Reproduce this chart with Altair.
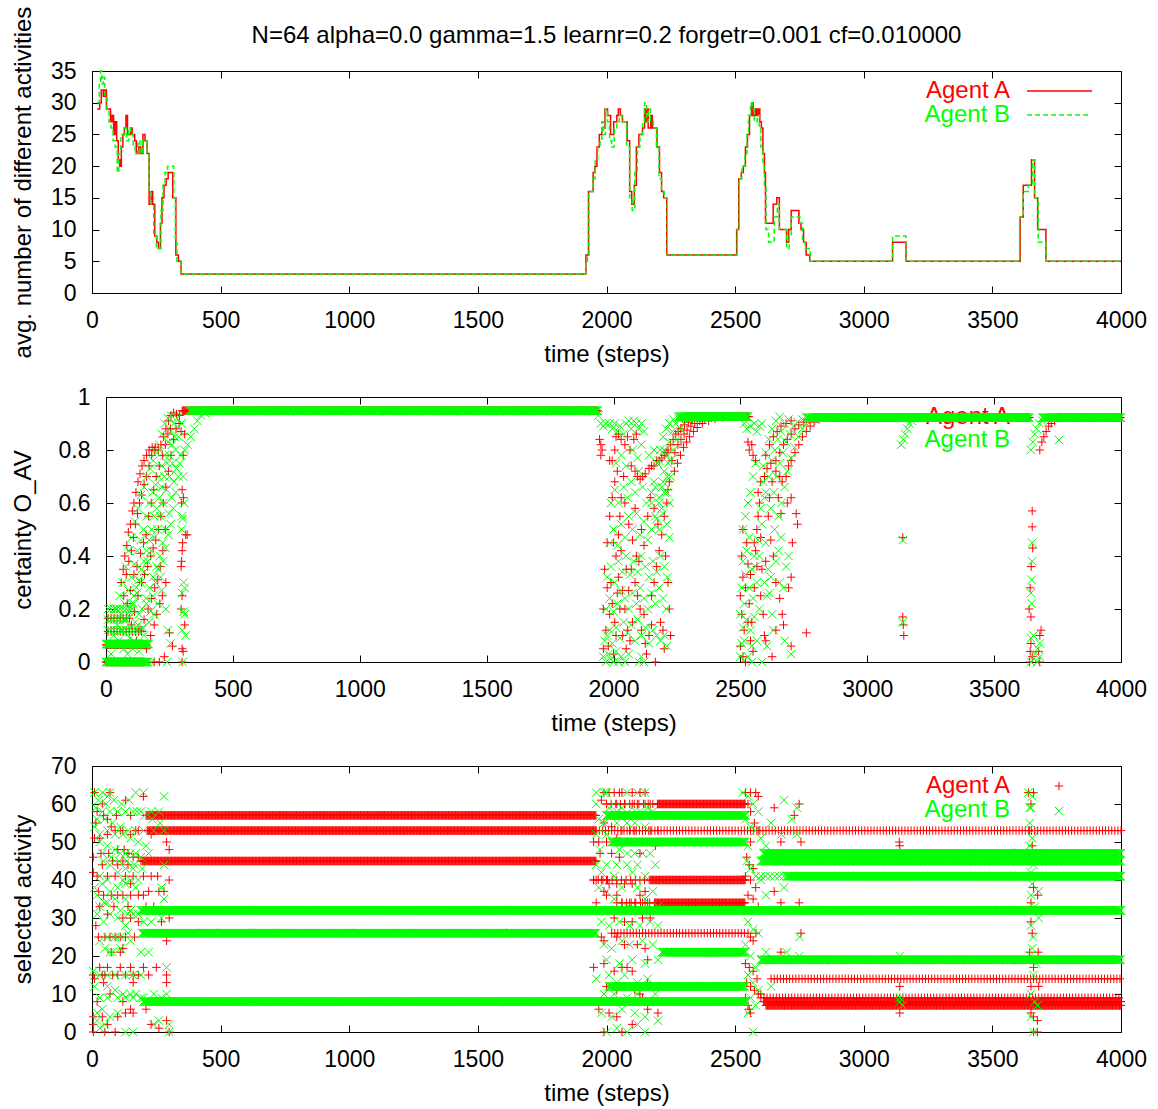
import altair as alt
import pandas as pd

FONT = "Liberation Sans"
RED = "#ff0000"
GREEN = "#00ff00"
PLUS = "M-1,0L1,0M0,-1L0,1"
CROSS = "M-1,-1L1,1M-1,1L1,-1"

title_text = "N=64 alpha=0.0 gamma=1.5 learnr=0.2 forgetr=0.001 cf=0.010000"
agents = ["Agent A", "Agent B"]
x_title = "time (steps)"
y_titles = ["avg. number of different activities", "certainty O_AV", "selected activity"]
x_ticks = [0, 500, 1000, 1500, 2000, 2500, 3000, 3500, 4000]
y1_ticks = [0, 5, 10, 15, 20, 25, 30, 35]
y2_ticks = [0, 0.2, 0.4, 0.6, 0.8, 1]
y3_ticks = [0, 10, 20, 30, 40, 50, 60, 70]

# ---------------- panel 1: avg. number of different activities (step lines)
act_A = [(20, 29), (30, 30), (36, 32), (44, 31), (50, 32), (56, 29), (66, 29), (72, 27), (78, 28), (84, 25),
         (90, 27), (96, 24), (102, 21), (108, 20), (114, 23), (120, 25), (126, 26), (132, 28), (138, 25),
         (150, 26), (156, 25), (166, 24), (172, 22), (182, 23), (190, 22), (198, 25), (206, 24), (214, 22),
         (222, 14), (230, 16), (236, 14), (244, 9), (252, 8), (258, 7), (266, 11), (272, 15), (280, 17),
         (288, 18), (296, 19), (314, 15), (326, 6), (336, 5), (346, 3),
         (1920, 6), (1930, 16), (1948, 19), (1955, 20), (1963, 23), (1972, 25), (1982, 26), (1994, 29),
         (2004, 28), (2016, 25), (2028, 27), (2040, 28), (2046, 29), (2054, 28), (2062, 27), (2080, 24),
         (2090, 16), (2098, 14), (2108, 17), (2116, 23), (2126, 25), (2140, 26), (2148, 29), (2152, 27),
         (2156, 29), (2162, 26), (2172, 28), (2178, 26), (2196, 23), (2206, 19), (2214, 16), (2222, 15),
         (2234, 6),
         (2506, 10), (2514, 18), (2524, 19), (2532, 20), (2540, 23), (2548, 25), (2556, 28), (2564, 30),
         (2570, 28), (2578, 29), (2584, 28), (2590, 29), (2596, 27), (2602, 26), (2608, 22), (2614, 19),
         (2618, 11), (2648, 14), (2662, 15), (2672, 10), (2700, 8), (2708, 10), (2718, 13), (2748, 11),
         (2756, 10), (2766, 8), (2776, 6), (2790, 5),
         (3112, 8), (3164, 5), (3608, 12), (3620, 17), (3652, 21), (3664, 15), (3676, 10), (3708, 5), (4000, 5)]
act_B = [(20, 30), (28, 33), (33, 35), (38, 33), (44, 34), (50, 31), (58, 29), (66, 27), (74, 26), (82, 24),
         (90, 23), (98, 19), (104, 22), (112, 25), (124, 26), (134, 24), (142, 26), (150, 25), (160, 23),
         (168, 22), (178, 24), (186, 22), (196, 24), (206, 24), (214, 22), (222, 16), (230, 14), (240, 9),
         (250, 7), (262, 7), (268, 13), (276, 17), (284, 19), (294, 20), (312, 20), (318, 15), (324, 8),
         (330, 5), (346, 3),
         (1920, 5), (1926, 6), (1932, 16), (1948, 18), (1956, 21), (1966, 23), (1975, 24), (1982, 27),
         (1988, 25), (1996, 29), (2004, 27), (2012, 24), (2020, 23), (2030, 26), (2040, 27), (2050, 28),
         (2062, 27), (2078, 23), (2090, 15), (2100, 13), (2110, 19), (2120, 23), (2130, 25), (2140, 27),
         (2148, 30), (2156, 27), (2162, 29), (2170, 27), (2182, 26), (2194, 23), (2204, 18), (2214, 16),
         (2224, 15), (2236, 6),
         (2508, 10), (2516, 18), (2526, 20), (2538, 22), (2546, 25), (2552, 28), (2560, 30), (2566, 29),
         (2574, 27), (2586, 28), (2594, 26), (2600, 23), (2608, 20), (2614, 17), (2620, 10), (2630, 8),
         (2646, 8), (2652, 12), (2664, 14), (2672, 10), (2700, 7), (2710, 9), (2718, 12), (2740, 12),
         (2752, 11), (2762, 8), (2772, 7), (2792, 5),
         (3112, 9), (3164, 5), (3606, 12), (3620, 16), (3640, 17), (3656, 21), (3664, 15), (3678, 8),
         (3708, 5), (4000, 5)]

# ---------------- panel 2: certainty O_AV
# constant runs (t_start, t_end, value)
cert_A_runs_dense = [(0, 150, 0.0), (0, 160, 0.065), (300, 1940, 0.948), (2290, 2535, 0.926),
                     (2790, 3640, 0.922), (3740, 4000, 0.922)]
cert_A_runs_sparse = [(8, 140, 0.115), (8, 100, 0.165)]
cert_B_runs_dense = [(0, 165, 0.0), (0, 170, 0.068), (330, 1940, 0.948), (2260, 2530, 0.926),
                     (2760, 3640, 0.922), (3690, 4000, 0.922)]
cert_B_runs_sparse = [(8, 150, 0.12), (8, 90, 0.16), (8, 110, 0.2)]

cert_A_pts = [
    (60, 0.30), (68, 0.35), (74, 0.40), (82, 0.44), (88, 0.49), (96, 0.52), (104, 0.57), (110, 0.60),
    (118, 0.64), (126, 0.68), (134, 0.71), (142, 0.74), (150, 0.76), (160, 0.78), (170, 0.80), (182, 0.81),
    (194, 0.81), (206, 0.80), (216, 0.82), (226, 0.85), (236, 0.88), (246, 0.91), (256, 0.93), (266, 0.94),
    (278, 0.935), (290, 0.93),
    (70, 0.25), (80, 0.33), (90, 0.38), (100, 0.42), (108, 0.47), (116, 0.52), (124, 0.56), (132, 0.60),
    (140, 0.63), (150, 0.67), (160, 0.70), (170, 0.74), (180, 0.78), (190, 0.80),
    (84, 0.22), (96, 0.27), (110, 0.33), (122, 0.36), (136, 0.41), (148, 0.45), (158, 0.48), (168, 0.55),
    (178, 0.60), (188, 0.65), (198, 0.70), (210, 0.74), (222, 0.78), (234, 0.82), (244, 0.86), (254, 0.88),
    (100, 0.14), (112, 0.19), (126, 0.25), (140, 0.30), (152, 0.33), (164, 0.36), (176, 0.40), (186, 0.43),
    (196, 0.46), (206, 0.50), (216, 0.55), (226, 0.60), (236, 0.66), (246, 0.72), (256, 0.78), (266, 0.84),
    (276, 0.88),
    (120, 0.08), (134, 0.12), (150, 0.16), (166, 0.20), (180, 0.24), (192, 0.28), (204, 0.31), (214, 0.36),
    (224, 0.42), (234, 0.50),
    (160, 0.05), (176, 0.10), (190, 0.14), (200, 0.18), (212, 0.22), (222, 0.25), (236, 0.30), (250, 0.11),
    (262, 0.06), (210, 0.0), (230, 0.02), (190, 0.0),
    (300, 0.65), (305, 0.62), (298, 0.60), (314, 0.48), (320, 0.48), (302, 0.45), (300, 0.42), (298, 0.38),
    (296, 0.36), (300, 0.25), (296, 0.20), (310, 0.14), (300, 0.05), (304, 0.04), (300, 0.0), (288, 0.90),
    (296, 0.87), (304, 0.78), (310, 0.86),
    # second burst
    (1945, 0.84), (1950, 0.82), (1955, 0.80), (1950, 0.78),
    (1985, 0.76), (1995, 0.76), (2005, 0.80), (2010, 0.85), (2020, 0.86), (2030, 0.84), (2045, 0.82),
    (2055, 0.85), (2065, 0.80), (2080, 0.84), (2090, 0.86),
    (2070, 0.74), (2085, 0.72), (2095, 0.70), (2105, 0.69), (2115, 0.70), (2125, 0.71), (2140, 0.73),
    (2150, 0.74), (2160, 0.74), (2170, 0.76), (2180, 0.76), (2190, 0.77), (2200, 0.78), (2210, 0.79),
    (2040, 0.70), (2030, 0.62), (2025, 0.55), (2020, 0.48), (2030, 0.42), (2045, 0.60), (2060, 0.52),
    (2075, 0.46), (2090, 0.40), (2070, 0.35), (2085, 0.30), (2100, 0.38), (2095, 0.25), (2105, 0.20),
    (2120, 0.18), (2110, 0.12), (2125, 0.07), (2140, 0.10), (2150, 0.25), (2160, 0.30), (2170, 0.36),
    (2180, 0.42), (2190, 0.48), (2200, 0.55), (2210, 0.60), (2215, 0.65), (2220, 0.68), (2185, 0.15),
    (2195, 0.12), (2200, 0.05), (2150, 0.14), (2130, 0.03), (2165, 0.0),
    (1965, 0.35), (1975, 0.28), (1960, 0.20), (1985, 0.18), (1995, 0.22), (2005, 0.15), (2010, 0.10),
    (1970, 0.12), (1980, 0.06), (1960, 0.05), (2000, 0.03), (2015, 0.26), (2020, 0.32), (2035, 0.27),
    (2045, 0.20), (2055, 0.12), (2065, 0.08), (2050, 0.35), (2060, 0.27), (2000, 0.45), (2010, 0.40),
    (1990, 0.30),
    (1975, 0.45), (1985, 0.55), (1995, 0.62), (2005, 0.68), (2015, 0.72), (2025, 0.20), (2035, 0.10),
    (2050, 0.05), (2075, 0.15), (2085, 0.58), (2110, 0.50), (2120, 0.44), (2135, 0.55), (2145, 0.62),
    (2160, 0.58), (2175, 0.52), (2205, 0.40), (2215, 0.30), (2220, 0.20), (2225, 0.10),
    (2215, 0.80), (2225, 0.82), (2235, 0.84), (2245, 0.86), (2255, 0.87), (2265, 0.88), (2280, 0.895),
    (2295, 0.905), (2310, 0.912), (2330, 0.918), (2350, 0.922),
    (2230, 0.76), (2242, 0.79), (2254, 0.82), (2266, 0.84), (2278, 0.86), (2290, 0.875), (2305, 0.89),
    (2320, 0.90), (2340, 0.91), (2360, 0.918), (2385, 0.922),
    (2240, 0.72), (2252, 0.75), (2264, 0.78), (2276, 0.81), (2288, 0.83), (2300, 0.85), (2315, 0.87),
    (2330, 0.885), (2350, 0.90), (2375, 0.91), (2400, 0.918), (2430, 0.924),
    # third burst
    (2530, 0.83), (2535, 0.80), (2545, 0.82), (2550, 0.78), (2560, 0.76),
    (2505, 0.40), (2510, 0.32), (2500, 0.25), (2505, 0.18), (2515, 0.12), (2500, 0.06), (2510, 0.02),
    (2520, 0.0), (2525, 0.45), (2530, 0.37), (2540, 0.33), (2535, 0.22), (2545, 0.15), (2540, 0.08),
    (2550, 0.04), (2555, 0.28), (2560, 0.42), (2565, 0.50), (2570, 0.55), (2575, 0.60), (2580, 0.47),
    (2585, 0.35), (2590, 0.18), (2595, 0.10),
    (2510, 0.50), (2520, 0.28), (2530, 0.15), (2555, 0.45), (2565, 0.36), (2580, 0.25), (2600, 0.38),
    (2615, 0.62), (2625, 0.68), (2650, 0.62), (2660, 0.56),
    (2570, 0.64), (2580, 0.68), (2595, 0.70), (2605, 0.73), (2620, 0.75), (2640, 0.72), (2655, 0.70),
    (2665, 0.68), (2680, 0.70), (2690, 0.74), (2700, 0.76), (2715, 0.79), (2730, 0.82), (2745, 0.85),
    (2760, 0.87), (2775, 0.89), (2790, 0.905), (2810, 0.915),
    (2600, 0.78), (2615, 0.82), (2630, 0.85), (2645, 0.87), (2660, 0.89), (2680, 0.90), (2700, 0.91),
    (2640, 0.76), (2655, 0.79), (2670, 0.82), (2685, 0.84), (2700, 0.86), (2715, 0.88), (2730, 0.895),
    (2750, 0.905), (2770, 0.915),
    (2685, 0.60), (2700, 0.62), (2720, 0.56), (2725, 0.52), (2705, 0.45), (2700, 0.32), (2690, 0.28),
    (2610, 0.55), (2620, 0.46), (2630, 0.40), (2640, 0.30), (2655, 0.24), (2665, 0.18), (2700, 0.06),
    (2760, 0.11), (2670, 0.14), (2640, 0.12), (2600, 0.08), (2625, 0.02),
    # isolated events
    (3140, 0.47), (3140, 0.17), (3142, 0.14), (3144, 0.10),
    (3650, 0.57), (3650, 0.51), (3652, 0.43), (3646, 0.36), (3642, 0.28), (3638, 0.20), (3645, 0.17),
    (3685, 0.12), (3680, 0.10), (3645, 0.07), (3642, 0.04), (3650, 0.02), (3640, 0.0), (3678, 0.0),
    (3675, 0.04),
    (3680, 0.80), (3688, 0.83), (3696, 0.85), (3705, 0.87), (3715, 0.89), (3725, 0.90), (3738, 0.91),
    (3750, 0.92)]

cert_B_pts = [
    (40, 0.20), (54, 0.25), (66, 0.30), (78, 0.36), (90, 0.42), (102, 0.47), (114, 0.53), (126, 0.58),
    (138, 0.63), (150, 0.66), (162, 0.70), (174, 0.73), (186, 0.76), (198, 0.79), (210, 0.82), (220, 0.86),
    (232, 0.90), (244, 0.92), (256, 0.93),
    (60, 0.18), (74, 0.22), (88, 0.27), (100, 0.32), (112, 0.37), (124, 0.42), (136, 0.46), (148, 0.50),
    (160, 0.55), (172, 0.60), (184, 0.64), (196, 0.67), (208, 0.70), (220, 0.74), (232, 0.78), (244, 0.83),
    (256, 0.87), (268, 0.90), (280, 0.92),
    (80, 0.12), (94, 0.17), (108, 0.22), (122, 0.26), (136, 0.30), (150, 0.34), (164, 0.38), (178, 0.42),
    (190, 0.47), (202, 0.50), (214, 0.55), (226, 0.60), (238, 0.65), (250, 0.70), (262, 0.75), (274, 0.80),
    (286, 0.85), (298, 0.90),
    (110, 0.08), (126, 0.14), (142, 0.20), (158, 0.24), (172, 0.28), (186, 0.32), (200, 0.36), (212, 0.40),
    (224, 0.45), (236, 0.50), (248, 0.56), (258, 0.62), (268, 0.68), (278, 0.73),
    (130, 0.04), (150, 0.10), (170, 0.15), (190, 0.18), (205, 0.22), (220, 0.27), (236, 0.20), (244, 0.12),
    (255, 0.07), (240, 0.0), (150, 0.0), (176, 0.0),
    (20, 0.03), (30, 0.10), (45, 0.14), (50, 0.08), (64, 0.12), (70, 0.05), (85, 0.03), (95, 0.09),
    (105, 0.05), (115, 0.15), (130, 0.18), (145, 0.13), (160, 0.22), (175, 0.19), (185, 0.25), (195, 0.30),
    (205, 0.35), (215, 0.32), (225, 0.38), (235, 0.43), (245, 0.48), (255, 0.52), (265, 0.58), (275, 0.64),
    (285, 0.70), (290, 0.75), (270, 0.85), (260, 0.82), (250, 0.78), (240, 0.75), (230, 0.70), (220, 0.66),
    (210, 0.62), (200, 0.58), (190, 0.55), (180, 0.50), (170, 0.46), (160, 0.42), (150, 0.38), (140, 0.35),
    (130, 0.31), (120, 0.28), (110, 0.25), (100, 0.22), (90, 0.19), (75, 0.16),
    (296, 0.78), (310, 0.80), (322, 0.82), (334, 0.85), (348, 0.88), (360, 0.91), (374, 0.93), (390, 0.94),
    (300, 0.55), (302, 0.54), (306, 0.30), (310, 0.28), (300, 0.26), (306, 0.19), (310, 0.18), (300, 0.12),
    (314, 0.10), (302, 0.0), (308, 0.60), (304, 0.70), (298, 0.50),
    # second burst
    (1940, 0.93), (1950, 0.90), (1960, 0.89), (1970, 0.90), (1985, 0.90), (1995, 0.88), (2005, 0.90),
    (2015, 0.87), (2025, 0.89), (2040, 0.86), (2050, 0.90), (2060, 0.91), (2070, 0.88), (2080, 0.91),
    (2090, 0.90), (2100, 0.88), (2110, 0.90), (2120, 0.87),
    (1960, 0.02), (1970, 0.0), (1980, 0.03), (1990, 0.01), (2000, 0.0), (2010, 0.04), (2020, 0.0),
    (2030, 0.02), (2045, 0.0), (2060, 0.03), (2100, 0.0), (2110, 0.02), (2120, 0.0),
    (1965, 0.08), (1975, 0.10), (1985, 0.12), (1995, 0.07), (2010, 0.13), (2025, 0.09), (2040, 0.15),
    (2055, 0.11), (2070, 0.14), (2085, 0.08), (2095, 0.16), (2110, 0.10), (2125, 0.13), (2140, 0.07),
    (2155, 0.12), (2170, 0.10), (2185, 0.08), (2200, 0.10), (2210, 0.06),
    (1970, 0.20), (1985, 0.24), (2000, 0.19), (2015, 0.22), (2030, 0.27), (2045, 0.24), (2060, 0.20),
    (2075, 0.26), (2090, 0.22), (2105, 0.28), (2120, 0.24), (2135, 0.20), (2150, 0.26), (2165, 0.22),
    (2180, 0.28), (2195, 0.24), (2208, 0.20),
    (1975, 0.32), (1990, 0.36), (2005, 0.30), (2020, 0.38), (2035, 0.34), (2050, 0.40), (2065, 0.33),
    (2080, 0.38), (2095, 0.34), (2110, 0.40), (2125, 0.36), (2140, 0.32), (2155, 0.38), (2170, 0.34),
    (2185, 0.40), (2200, 0.36), (2212, 0.32),
    (1985, 0.45), (2000, 0.50), (2015, 0.44), (2030, 0.52), (2045, 0.47), (2060, 0.55), (2075, 0.50),
    (2090, 0.56), (2105, 0.48), (2120, 0.53), (2135, 0.46), (2150, 0.50), (2165, 0.55), (2180, 0.50),
    (2195, 0.56), (2210, 0.52), (2220, 0.47),
    (1990, 0.60), (2005, 0.65), (2020, 0.60), (2040, 0.66), (2055, 0.62), (2070, 0.68), (2085, 0.64),
    (2100, 0.72), (2115, 0.66), (2130, 0.60), (2150, 0.64), (2165, 0.66), (2180, 0.62), (2195, 0.68),
    (2210, 0.64), (2222, 0.60),
    (2010, 0.75), (2030, 0.78), (2050, 0.74), (2075, 0.80), (2095, 0.77), (2110, 0.82), (2140, 0.78),
    (2160, 0.80), (2180, 0.76), (2200, 0.80), (2215, 0.75), (2225, 0.70),
    (2170, 0.54), (2180, 0.60), (2190, 0.66), (2200, 0.72), (2210, 0.78), (2220, 0.83), (2232, 0.87),
    (2245, 0.90), (2260, 0.915), (2280, 0.925),
    (2190, 0.58), (2200, 0.64), (2212, 0.70), (2224, 0.76), (2236, 0.80), (2250, 0.84), (2264, 0.88),
    (2280, 0.90), (2300, 0.915), (2320, 0.925),
    (2150, 0.60), (2160, 0.68), (2172, 0.75), (2184, 0.80), (2196, 0.85), (2208, 0.88), (2220, 0.90),
    (2236, 0.915), (2255, 0.925),
    # third burst
    (2515, 0.90), (2525, 0.88), (2540, 0.89), (2555, 0.90), (2565, 0.87), (2575, 0.89), (2585, 0.90),
    (2500, 0.02), (2505, 0.07), (2510, 0.13), (2500, 0.18), (2515, 0.22), (2505, 0.28), (2520, 0.33),
    (2510, 0.38), (2525, 0.42), (2535, 0.47), (2530, 0.02), (2545, 0.06), (2540, 0.12), (2555, 0.17),
    (2550, 0.24), (2565, 0.30), (2560, 0.36), (2575, 0.40), (2570, 0.46), (2585, 0.52), (2580, 0.58),
    (2595, 0.62), (2590, 0.68), (2600, 0.45), (2610, 0.35), (2615, 0.26), (2625, 0.18), (2630, 0.12),
    (2605, 0.06), (2585, 0.0), (2545, 0.0), (2655, 0.30), (2670, 0.28), (2680, 0.36), (2640, 0.38),
    (2660, 0.47), (2690, 0.40), (2675, 0.08), (2700, 0.03),
    (2510, 0.50), (2520, 0.55), (2530, 0.60), (2540, 0.64), (2550, 0.70), (2560, 0.75), (2515, 0.08),
    (2525, 0.16), (2535, 0.28), (2545, 0.35), (2555, 0.40), (2565, 0.08), (2575, 0.20), (2595, 0.30),
    (2605, 0.25), (2620, 0.32), (2635, 0.50), (2650, 0.42),
    (2590, 0.74), (2600, 0.79), (2612, 0.84), (2625, 0.88), (2640, 0.91), (2655, 0.925),
    (2600, 0.64), (2612, 0.70), (2624, 0.76), (2636, 0.80), (2648, 0.84), (2660, 0.87), (2675, 0.90),
    (2690, 0.915),
    (2620, 0.58), (2632, 0.64), (2644, 0.70), (2656, 0.75), (2668, 0.79), (2680, 0.83), (2695, 0.86),
    (2710, 0.89), (2725, 0.905), (2745, 0.915),
    (2650, 0.55), (2662, 0.60), (2674, 0.66), (2686, 0.72), (2700, 0.77), (2714, 0.81), (2728, 0.85),
    (2744, 0.88), (2760, 0.90), (2780, 0.912),
    # isolated events
    (3140, 0.46), (3140, 0.15), (3134, 0.82), (3142, 0.84), (3150, 0.86), (3158, 0.88), (3166, 0.90),
    (3176, 0.91), (3186, 0.92),
    (3650, 0.45), (3650, 0.38), (3648, 0.31), (3645, 0.26), (3648, 0.22), (3645, 0.09), (3680, 0.07),
    (3660, 0.03), (3645, 0.0), (3680, 0.02), (3670, 0.0), (3672, 0.05), (3655, 0.10),
    (3645, 0.80), (3652, 0.83), (3660, 0.86), (3668, 0.88), (3678, 0.90), (3690, 0.91)]

# ---------------- panel 3: selected activity
sel_A_runs_dense = [(210, 1960, 57), (215, 1960, 53), (195, 1960, 45), (2200, 2540, 60), (2170, 2540, 40),
                    (2190, 2540, 34), (2610, 4000, 8), (2620, 4000, 7)]
sel_A_runs_medium = [(1960, 4000, 53), (2020, 2540, 26), (2640, 4000, 14), (2600, 4000, 9)]
sel_A_runs_sparse = [(2000, 2200, 60), (1950, 2170, 40), (2060, 2190, 34)]
sel_B_runs_dense = [(190, 4000, 32), (195, 1960, 26), (200, 2545, 8), (2000, 2540, 57), (2020, 2540, 50),
                    (2215, 2540, 21), (2010, 2540, 12), (2610, 4000, 47), (2600, 4000, 45),
                    (2700, 4000, 41), (2600, 4000, 19)]
sel_B_runs_sparse = [(2600, 2700, 41)]

sel_A_pts = [
    (10, 63), (70, 63), (40, 60), (130, 61), (200, 62), (15, 55), (60, 56), (95, 57), (150, 57), (230, 52),
    (10, 51), (30, 51), (60, 52), (90, 53), (110, 53), (170, 53), (290, 50), (300, 48), (100, 48),
    (125, 48), (140, 47), (160, 46), (180, 46), (5, 46), (40, 44), (80, 45), (120, 45), (5, 42), (20, 41),
    (60, 41), (90, 41), (130, 41), (160, 41), (200, 41), (230, 41), (255, 41), (300, 40), (150, 39),
    (25, 37), (75, 36), (100, 36), (150, 36), (180, 36), (220, 37), (280, 37), (30, 33), (85, 33),
    (140, 33), (210, 33), (240, 33), (60, 31), (120, 30), (150, 30), (180, 29), (270, 29), (300, 30),
    (15, 28), (50, 25), (90, 25), (130, 25), (165, 25), (290, 24), (120, 22), (75, 21), (110, 21),
    (30, 17), (60, 17), (110, 17), (150, 17), (200, 17), (250, 17), (5, 15), (50, 15), (100, 15),
    (180, 15), (290, 15), (10, 14), (45, 13), (160, 13), (290, 13), (20, 8), (210, 6), (150, 6), (5, 4),
    (40, 4), (100, 4), (130, 5), (5, 2), (60, 2), (290, 3), (5, 0), (50, 0), (300, 0), (230, 2),
    (20, 58), (45, 57), (75, 54), (120, 53), (150, 52), (180, 53), (250, 57), (270, 57), (35, 47),
    (65, 47), (100, 44), (140, 44), (190, 45), (45, 36), (120, 36), (200, 36), (260, 37), (25, 25),
    (70, 25), (110, 25), (40, 15), (80, 15), (130, 15), (160, 15), (220, 15), (70, 10), (120, 8),
    (160, 5), (260, 1), (90, 0),
    (1990, 63), (2010, 63), (2030, 63), (2050, 63), (2060, 63), (2100, 63), (2130, 63), (2150, 63),
    (1980, 61), (2000, 60), (2040, 60), (2070, 60), (2100, 60), (2120, 60), (2150, 60), (2170, 60),
    (1990, 55), (2020, 54), (2060, 53), (2090, 53), (2110, 53), (2140, 53), (2170, 53), (2200, 53),
    (1950, 50), (1970, 50), (2000, 50), (2040, 51), (2080, 50), (2140, 50), (2160, 50), (2190, 49),
    (1975, 47), (2020, 47), (2050, 46), (2130, 47), (1950, 40), (1960, 40), (1980, 40), (2000, 40),
    (2010, 39), (2040, 39), (2070, 39), (2100, 39), (1990, 37), (2000, 36), (2040, 36), (2130, 36),
    (2150, 37), (1960, 34), (2040, 34), (2060, 34), (2090, 34), (2110, 34), (2140, 34), (2160, 34),
    (2030, 30), (2070, 29), (2100, 29), (2140, 30), (2170, 30), (1980, 25), (1990, 24), (2040, 25),
    (2070, 23), (2120, 23), (2150, 22), (1950, 17), (1990, 18), (2030, 16), (2060, 17), (2080, 17),
    (2100, 16), (2160, 19), (2000, 12), (2040, 11), (2070, 12), (2110, 11), (2130, 10), (2160, 13),
    (1980, 8), (2030, 8), (2140, 9), (2180, 8), (1970, 6), (2010, 5), (2040, 4), (2100, 2), (2160, 6),
    (2200, 5), (1990, 0), (2060, 0),
    (2540, 63), (2560, 63), (2580, 63), (2590, 62), (2550, 60), (2560, 58), (2575, 55), (2590, 53),
    (2560, 50), (2545, 46), (2555, 44), (2570, 43), (2540, 41), (2560, 40), (2580, 38), (2550, 36),
    (2570, 35), (2590, 33), (2550, 26), (2560, 25), (2570, 24), (2540, 18), (2555, 17), (2570, 16),
    (2585, 14), (2545, 13), (2560, 12), (2575, 11), (2590, 10), (2540, 9), (2550, 7), (2555, 6),
    (2560, 5), (2600, 10),
    (2652, 59), (2749, 60), (2730, 57), (2678, 50), (2756, 50), (2652, 37), (2678, 34), (2749, 34),
    (2756, 26), (2581, 26), (2678, 21), (3138, 50), (3140, 49), (3140, 12), (3135, 8), (3140, 7),
    (3140, 5),
    (3640, 63), (3660, 63), (3650, 60), (3645, 53), (3655, 49), (3660, 38), (3676, 36), (3650, 34),
    (3650, 29), (3655, 26), (3645, 21), (3678, 21), (3660, 17), (3650, 12), (3680, 12), (3645, 8),
    (3665, 8), (3650, 5), (3660, 4), (3675, 3), (3660, 0), (3675, 0)]

sel_B_pts = [
    (10, 63), (40, 63), (70, 63), (170, 63), (200, 63), (60, 62), (280, 62), (15, 59), (40, 58), (70, 58),
    (100, 58), (130, 58), (160, 58), (190, 58), (230, 58), (260, 58), (20, 56), (50, 56), (80, 55),
    (110, 54), (140, 53), (170, 53), (200, 53), (240, 53), (280, 53), (10, 54), (30, 50), (60, 49),
    (90, 48), (110, 47), (130, 47), (150, 47), (170, 47), (190, 46), (220, 47), (40, 47), (70, 44),
    (100, 42), (130, 43), (160, 43), (280, 44), (10, 38), (40, 39), (70, 37), (100, 38), (130, 39),
    (170, 38), (270, 38), (280, 35), (20, 36), (50, 34), (90, 35), (130, 35), (150, 32), (160, 31),
    (180, 31), (20, 31), (45, 29), (70, 31), (100, 30), (130, 28), (140, 26), (60, 25), (90, 25),
    (110, 25), (190, 21), (220, 21), (70, 21), (80, 21), (5, 16), (30, 15), (60, 15), (90, 15), (130, 15),
    (160, 15), (190, 15), (290, 17), (10, 12), (30, 9), (60, 9), (100, 9), (120, 10), (150, 10),
    (170, 10), (200, 9), (290, 10), (20, 5), (40, 6), (20, 3), (50, 2), (30, 1), (130, 0), (160, 0),
    (300, 2), (300, 0), (240, 2),
    (25, 61), (55, 60), (85, 61), (115, 60), (145, 61), (175, 58), (205, 57), (235, 56), (265, 55),
    (30, 52), (60, 53), (90, 52), (120, 52), (150, 51), (180, 50), (210, 49), (45, 45), (75, 46),
    (105, 45), (135, 45), (165, 44), (195, 43), (30, 41), (60, 40), (120, 40), (150, 40), (180, 40),
    (30, 33), (60, 34), (110, 32), (140, 31), (200, 29), (230, 29), (270, 30), (30, 24), (50, 22),
    (110, 22), (150, 24), (60, 12), (90, 11), (130, 9), (160, 9), (190, 9), (240, 10), (270, 9), (70, 4),
    (100, 5), (260, 3),
    (1960, 63), (1990, 63), (2000, 63), (2080, 63), (2120, 63), (2150, 63), (1960, 60), (2010, 59),
    (2040, 58), (2060, 59), (2100, 59), (2130, 58), (2160, 59), (2180, 58), (1970, 56), (1990, 55),
    (2040, 55), (2080, 55), (2110, 55), (2150, 54), (1960, 52), (2000, 52), (1975, 48), (2050, 48),
    (2080, 47), (2110, 47), (2140, 47), (2170, 47), (1960, 44), (2000, 44), (2040, 44), (2080, 44),
    (2120, 44), (2190, 44), (1980, 42), (2030, 41), (2100, 42), (2150, 41), (1970, 38), (2000, 37),
    (2060, 38), (2120, 38), (2180, 37), (2030, 35), (2080, 33), (2150, 35), (2200, 33), (1980, 29),
    (2010, 28), (2050, 29), (2090, 28), (2130, 28), (2170, 29), (2200, 28), (1990, 23), (2020, 22),
    (2060, 24), (2090, 23), (2140, 24), (2180, 23), (2000, 19), (2050, 18), (2100, 19), (2150, 18),
    (2200, 19), (1960, 14), (2010, 15), (2040, 13), (2070, 15), (2120, 13), (2160, 14), (1990, 10),
    (2030, 10), (2080, 9), (2120, 10), (2190, 10), (1980, 5), (2020, 4), (2060, 6), (2110, 5), (2150, 4),
    (2200, 3), (2000, 0), (2040, 1), (2080, 0), (2120, 2), (2150, 0),
    (2530, 63), (2550, 62), (2570, 60), (2590, 58), (2540, 56), (2560, 54), (2580, 53), (2600, 51),
    (2620, 49), (2550, 49), (2545, 45), (2560, 43), (2580, 41), (2600, 40), (2580, 32), (2550, 29),
    (2570, 27), (2590, 26), (2540, 23), (2560, 20), (2580, 17), (2550, 15), (2570, 13), (2590, 11),
    (2560, 9), (2580, 7), (2550, 5), (2570, 0),
    (2690, 61), (2740, 59), (2720, 56), (2640, 55), (2680, 52), (2740, 52), (2620, 36), (2690, 38),
    (2660, 32), (2750, 25), (2620, 21), (2700, 21), (2750, 20), (2640, 12), (3140, 20), (3140, 8),
    (3140, 9), (3150, 7),
    (3640, 63), (3655, 62), (3650, 59), (3645, 59), (3645, 55), (3660, 53), (3655, 51), (3645, 49),
    (3660, 44), (3650, 42), (3655, 39), (3680, 37), (3650, 36), (3665, 33), (3675, 32), (3650, 28),
    (3680, 30), (3660, 25), (3655, 22), (3648, 20), (3670, 18), (3660, 15), (3650, 10), (3665, 8),
    (3675, 7), (3650, 4), (3660, 0)]

# density (steps between repeated markers inside a constant run)
DENSE, MEDIUM, SPARSE = 3, 12, 18


def runs(spec, step):
    rows = []
    for t0, t1, v in spec:
        for t in range(t0, t1 + 1, step):
            rows.append((t, v))
    return rows


def frame(rows):
    return pd.DataFrame(rows, columns=["t", "v"])


TS = 7
W = 1029          # every panel's group width
INSET2 = 14       # middle panel's plot starts this far right of the others
XS = alt.Scale(domain=[0, 4000], nice=False, zero=False)
XS2 = alt.Scale(domain=[0, 4000], range=[INSET2, W], nice=False, zero=False)


def axes_layers(xs, ydom, yvals, yfmt, ytitle, ytitle_x, H, left=0, frame_axes=False):
    ys = alt.Scale(domain=ydom, nice=False, zero=False)
    base = alt.Chart(frame([(0, ydom[0])])).mark_point(opacity=0)
    dom = dict(domain=True, domainColor="black", domainWidth=1) if frame_axes else dict(domain=False)
    main = base.encode(
        x=alt.X("t:Q", scale=xs, axis=alt.Axis(
            orient="bottom", values=x_ticks, format="d", ticks=False, tickSize=0, grid=False,
            labelFlush=False, labelOverlap=False, labelPadding=16, labelFontSize=23, labelFont=FONT,
            labelColor="black", title=x_title, titleFont=FONT, titleFontSize=24, titleFontWeight="normal",
            titleColor="black", titleX=left + (W - left) / 2, titleY=61, titleAlign="center",
            titleBaseline="middle", **dom)),
        y=alt.Y("v:Q", scale=ys, axis=alt.Axis(
            orient="left", offset=-left, values=yvals, format=yfmt, ticks=False, tickSize=0, grid=False,
            labelFlush=False, labelOverlap=False, labelPadding=16, labelFontSize=23, labelFont=FONT,
            labelColor="black", title=ytitle, titleFont=FONT, titleFontSize=24, titleFontWeight="normal",
            titleColor="black", titleX=ytitle_x, titleY=H / 2, titleAngle=270, titleAlign="center",
            titleBaseline="middle", **dom)))
    tick = dict(tickSize=TS, tickColor="black", tickWidth=1, labels=False, domain=False, grid=False, title=None)
    bl = base.encode(
        x=alt.X("t:Q", scale=xs, axis=alt.Axis(orient="bottom", offset=-TS, values=x_ticks, **tick)),
        y=alt.Y("v:Q", scale=ys, axis=alt.Axis(orient="left", offset=-TS - left, values=yvals, **tick)))
    tr = base.encode(
        x=alt.X("t:Q", scale=xs, axis=alt.Axis(orient="top", offset=-TS, values=x_ticks, **tick)),
        y=alt.Y("v:Q", scale=ys, axis=alt.Axis(orient="right", offset=-TS, values=yvals, **tick)))
    layers = [main, bl, tr]
    if frame_axes:
        edge = dict(ticks=False, labels=False, domain=True, domainColor="black", domainWidth=1, grid=False,
                    title=None)
        layers.append(base.encode(
            x=alt.X("t:Q", scale=xs, axis=alt.Axis(orient="top", **edge)),
            y=alt.Y("v:Q", scale=ys, axis=alt.Axis(orient="right", **edge))))
    return layers


def label_mark(text, color, x, y, align="right"):
    return alt.Chart(pd.DataFrame({"label": [text]})).mark_text(
        align=align, baseline="middle", fontSize=24, font=FONT, color=color
    ).encode(x=alt.value(x), y=alt.value(y), text="label:N")


def sample_symbol(shape, color, x, y):
    return alt.Chart(pd.DataFrame({"label": ["k"]})).mark_point(
        shape=shape, size=72, filled=False, color=color, strokeWidth=1, opacity=1
    ).encode(x=alt.value(x), y=alt.value(y))


def scatter(df, shape, color, xs, ydom):
    return alt.Chart(df).mark_point(
        shape=shape, size=72, filled=False, color=color, strokeWidth=1, opacity=1
    ).encode(
        x=alt.X("t:Q", scale=xs, axis=None),
        y=alt.Y("v:Q", scale=alt.Scale(domain=ydom, nice=False, zero=False), axis=None))


# ---------------- panel 1
H1 = 222
Y1 = [0, 35]
line_A = alt.Chart(frame(act_A)).mark_line(interpolate="step-after", color=RED, strokeWidth=1.5).encode(
    x=alt.X("t:Q", scale=XS, axis=None),
    y=alt.Y("v:Q", scale=alt.Scale(domain=Y1, nice=False, zero=False), axis=None))
line_B = alt.Chart(frame(act_B)).mark_line(interpolate="step-after", color=GREEN, strokeWidth=1.5,
                                           strokeDash=[5, 3]).encode(
    x=alt.X("t:Q", scale=XS, axis=None),
    y=alt.Y("v:Q", scale=alt.Scale(domain=Y1, nice=False, zero=False), axis=None))
key_rule_A = alt.Chart(pd.DataFrame({"label": [agents[0]]})).mark_rule(color=RED, strokeWidth=1.5).encode(
    x=alt.value(935), x2=alt.value(1000), y=alt.value(20))
key_rule_B = alt.Chart(pd.DataFrame({"label": [agents[1]]})).mark_rule(
    color=GREEN, strokeWidth=1.5, strokeDash=[5, 3]).encode(x=alt.value(935), x2=alt.value(997), y=alt.value(44))

panel1 = alt.layer(
    label_mark(title_text, "black", W / 2, -35, align="center"),
    label_mark(agents[0], RED, 918, 20), key_rule_A, line_A,
    label_mark(agents[1], GREEN, 918, 44), key_rule_B, line_B,
    *axes_layers(XS, Y1, y1_ticks, "d", y_titles[0], -69, H1)
).resolve_axis(x="independent", y="independent").properties(width=W, height=H1)

# ---------------- panel 2 (plot area inset by INSET2; frame drawn by axis domain lines)
H2 = 265
Y2 = [0, 1]
cA = frame(runs(cert_A_runs_dense, DENSE) + runs(cert_A_runs_sparse, MEDIUM) + cert_A_pts)
cB = frame(runs(cert_B_runs_dense, DENSE) + runs(cert_B_runs_sparse, MEDIUM) + cert_B_pts)
panel2 = alt.layer(
    label_mark(agents[0], RED, 918, 20), sample_symbol(PLUS, RED, 967, 20), scatter(cA, PLUS, RED, XS2, Y2),
    label_mark(agents[1], GREEN, 918, 43), sample_symbol(CROSS, GREEN, 967, 43),
    scatter(cB, CROSS, GREEN, XS2, Y2),
    *axes_layers(XS2, Y2, y2_ticks, "~g", y_titles[1], -83, H2, left=INSET2, frame_axes=True)
).resolve_axis(x="independent", y="independent").properties(
    width=W, height=H2, view=alt.ViewBackground(stroke="transparent"))

# ---------------- panel 3
H3 = 266
Y3 = [0, 70]
sA = frame(runs(sel_A_runs_dense, DENSE) + runs(sel_A_runs_medium, MEDIUM) + runs(sel_A_runs_sparse, SPARSE)
           + sel_A_pts)
sB = frame(runs(sel_B_runs_dense, DENSE) + runs(sel_B_runs_sparse, SPARSE) + sel_B_pts)
panel3 = alt.layer(
    label_mark(agents[0], RED, 918, 20), sample_symbol(PLUS, RED, 967, 20), scatter(sA, PLUS, RED, XS, Y3),
    label_mark(agents[1], GREEN, 918, 44), sample_symbol(CROSS, GREEN, 967, 45),
    scatter(sB, CROSS, GREEN, XS, Y3),
    *axes_layers(XS, Y3, y3_ticks, "d", y_titles[2], -69, H3)
).resolve_axis(x="independent", y="independent").properties(width=W, height=H3)

chart = alt.vconcat(panel1, panel2, panel3, spacing=104, bounds="flush").properties(
    padding={"left": 10, "top": 5, "right": 0, "bottom": 0}, background="white"
).configure(font=FONT).configure_view(stroke="black", strokeWidth=1)

chart.save("out.html", embed_options={"renderer": "svg", "actions": False})
